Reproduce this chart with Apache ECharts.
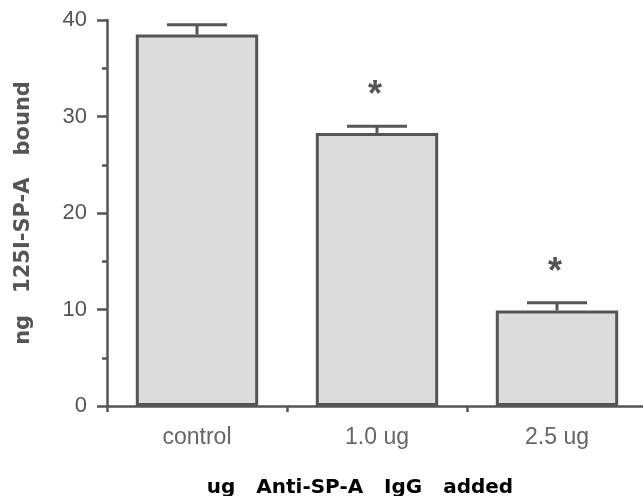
<!DOCTYPE html>
<html>
<head>
<meta charset="utf-8">
<script src="https://cdn.jsdelivr.net/npm/echarts@6/dist/echarts.min.js"></script>
<style>
  html, body { margin: 0; padding: 0; background: #fff; }
  #chart { width: 643px; height: 496px; }
</style>
</head>
<body>
<div id="chart"></div>
<script>
const categories = ['control', '1.0 ug', '2.5 ug'];
const boundValues = [38.5, 28.3, 9.9];
const errorTops = [39.5, 29.0, 10.7];
const significant = [false, true, true];
const yTicks = [0, 10, 20, 30, 40];

const ink = '#555';
const chart = echarts.init(document.getElementById('chart'));

chart.setOption({
    animation: false,
    grid: { left: 107, right: -4, top: 20, bottom: 90, outerBoundsMode: 'none', containLabel: false },
    xAxis: {
        type: 'category',
        data: categories,
        axisLine: { lineStyle: { color: ink, width: 2.5 } },
        axisTick: { show: true, length: 6, lineStyle: { color: ink, width: 2.5 } },
        axisLabel: {
            color: '#666', fontSize: 23, fontFamily: 'Liberation Sans', margin: 20,
        },
        name: 'ug   Anti-SP-A   IgG   added',
        nameLocation: 'middle',
        nameGap: 72,
        nameTextStyle: {
            color: '#000', fontSize: 20, fontWeight: 'bold', fontFamily: 'DejaVu Sans',
            padding: [0, 34, 0, 0],
        },
    },
    yAxis: {
        type: 'value',
        min: yTicks[0],
        max: yTicks[yTicks.length - 1],
        interval: 10,
        splitLine: { show: false },
        axisLine: { show: true, lineStyle: { color: ink, width: 2.5 } },
        axisTick: { show: true, length: 10, lineStyle: { color: ink, width: 2.5 } },
        minorTick: { show: true, splitNumber: 2, length: 5, lineStyle: { color: ink, width: 2.5 } },
        axisLabel: {
            color: ink, fontSize: 22, fontFamily: 'Liberation Sans', margin: 20,
        },
        name: 'ng   125I-SP-A   bound',
        nameLocation: 'middle',
        nameRotate: 90,
        nameGap: 73,
        nameTextStyle: {
            color: ink, fontSize: 21, fontWeight: 'bold', fontFamily: 'DejaVu Sans',
        },
    },
    series: [
        {
            type: 'bar',
            data: boundValues,
            barWidth: '68%',
            itemStyle: {
                color: '#dcdcdc',
                borderColor: ink,
                borderWidth: 3,
            },
            z: 2,
        },
        {
            type: 'custom',
            data: categories.map((c, i) => [i, boundValues[i], errorTops[i], significant[i] ? 1 : 0]),
            z: 3,
            renderItem: function (params, api) {
                const base = api.coord([api.value(0), api.value(1)]);
                const top = api.coord([api.value(0), api.value(2)]);
                const half = 30;
                const children = [
                    { type: 'line', shape: { x1: base[0], y1: base[1], x2: top[0], y2: top[1] },
                      style: { stroke: ink, lineWidth: 3 } },
                    { type: 'line', shape: { x1: top[0] - half, y1: top[1], x2: top[0] + half, y2: top[1] },
                      style: { stroke: ink, lineWidth: 3 } },
                ];
                if (api.value(3)) {
                    children.push({
                        type: 'text',
                        style: {
                            x: top[0] - 2, y: top[1] - 30, text: '*',
                            fill: ink, font: 'bold 36px "Liberation Sans"',
                            textAlign: 'center', textVerticalAlign: 'middle',
                        },
                    });
                }
                return { type: 'group', children: children };
            },
        },
    ],
});
</script>
</body>
</html>
